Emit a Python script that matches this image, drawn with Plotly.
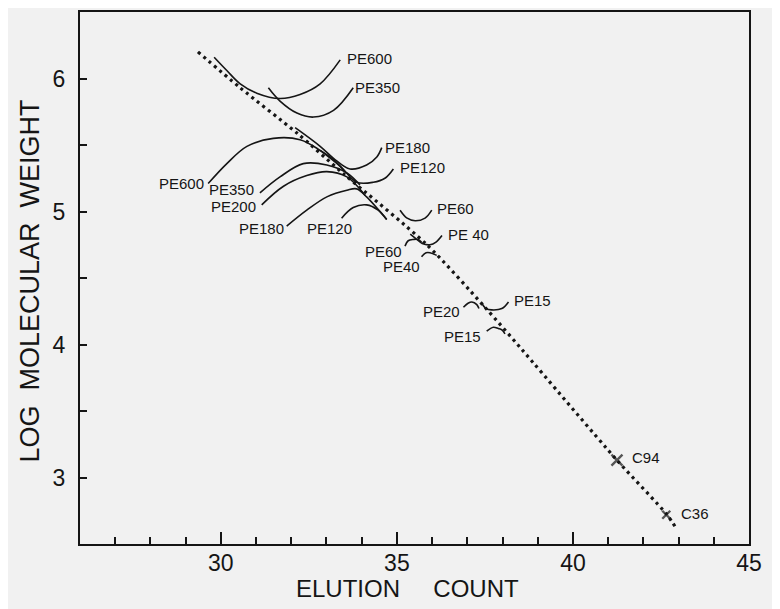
import plotly.graph_objects as go

# ---- calibration (dotted) line ----
cal_x = [29.35, 30.55, 32.16, 33.50, 35.85, 37.50, 38.59, 41.25, 42.67, 42.95]
cal_y = [6.20, 5.93, 5.59, 5.28, 4.75, 4.28, 3.95, 3.13, 2.72, 2.61]

# ---- distribution curves (hand-drawn) ----
curves = {
    "PE600_top": ([29.81, 30.17, 30.55, 31.02, 31.68, 32.25, 32.82, 33.39],
                  [6.16, 6.06, 5.96, 5.89, 5.85, 5.88, 5.96, 6.14]),
    "PE350_top": ([31.35, 31.68, 32.16, 32.63, 33.20, 33.76],
                  [5.93, 5.83, 5.74, 5.71, 5.76, 5.93]),
    "PE600_left": ([29.64, 30.17, 30.74, 31.49, 32.25, 32.82, 33.20, 33.53],
                   [5.21, 5.36, 5.49, 5.55, 5.54, 5.46, 5.39, 5.30]),
    "PE350_left": ([31.11, 31.68, 32.34, 33.01, 33.58, 33.95],
                   [5.14, 5.26, 5.36, 5.35, 5.29, 5.20]),
    "PE200_left": ([31.16, 31.78, 32.44, 33.01, 33.58, 34.10],
                   [5.05, 5.19, 5.27, 5.30, 5.26, 5.12]),
    "PE180_left": ([31.87, 32.44, 33.01, 33.58, 33.86, 34.14, 34.71],
                   [4.89, 5.01, 5.11, 5.16, 5.17, 5.11, 4.94]),
    "PE120_left": ([33.43, 33.76, 34.14, 34.47, 34.71],
                   [4.95, 5.03, 5.05, 5.01, 4.94]),
    "PE180_right": ([32.11, 32.82, 33.20, 33.67, 34.14, 34.43, 34.57],
                    [5.63, 5.49, 5.40, 5.32, 5.35, 5.41, 5.48]),
    "PE120_right": ([32.82, 33.39, 33.86, 34.33, 34.66, 34.90],
                    [5.46, 5.34, 5.22, 5.22, 5.25, 5.32]),
    "PE60_right": ([35.09, 35.29, 35.52, 35.80, 35.99],
                   [5.01, 4.95, 4.93, 4.95, 5.01]),
    "PE40_right": ([35.38, 35.52, 35.72, 35.94, 36.11, 36.28],
                   [4.83, 4.80, 4.76, 4.75, 4.77, 4.82]),
    "PE60_left": ([35.23, 35.32, 35.47, 35.60, 35.70],
                  [4.74, 4.78, 4.79, 4.79, 4.77]),
    "PE40_left": ([35.70, 35.83, 35.94, 36.13],
                  [4.66, 4.69, 4.69, 4.67]),
    "PE20": ([36.89, 37.02, 37.13, 37.27, 37.33],
             [4.28, 4.31, 4.32, 4.30, 4.27]),
    "PE15_right": ([37.41, 37.53, 37.69, 37.98, 38.17],
                   [4.31, 4.27, 4.26, 4.27, 4.32]),
    "PE15_left": ([37.55, 37.74, 37.88, 37.98, 38.07],
                  [4.10, 4.13, 4.12, 4.11, 4.08]),
}

# ---- n-alkane reference points ----
ref_names = ["C94", "C36"]
ref_x = [41.25, 42.65]
ref_y = [3.13, 2.72]

# ---- curve labels: text, x, y, side ----
label_text = ["PE600", "PE350", "PE600", "PE350", "PE200", "PE180", "PE120",
              "PE180", "PE120", "PE60", "PE 40", "PE60", "PE40", "PE20",
              "PE15", "PE15", "C94", "C36"]
label_x = [33.52, 33.76, 29.58, 30.99, 31.06, 31.84, 33.10,
           34.60, 35.03, 36.09, 36.40, 35.20, 35.70, 36.85,
           38.28, 37.45, 41.62, 43.02]
label_y = [6.15, 5.93, 5.21, 5.165, 5.04, 4.87, 4.87,
           5.48, 5.33, 5.02, 4.83, 4.70, 4.59, 4.25,
           4.33, 4.06, 3.15, 2.73]
label_side = ["left", "left", "right", "right", "right", "right", "center",
              "left", "left", "left", "left", "right", "right", "right",
              "left", "right", "left", "left"]

ink = "#151515"
paper = "#f1f1f1"
font_family = "Liberation Sans, Arial, sans-serif"
NB = "\u00a0"

fig = go.Figure()

fig.add_trace(go.Scatter(
    x=cal_x, y=cal_y, mode="lines",
    line=dict(color=ink, width=3.2, dash="3px,4px", shape="spline", smoothing=0.8),
    hoverinfo="skip", showlegend=False))

for name, (cx, cy) in curves.items():
    fig.add_trace(go.Scatter(
        x=cx, y=cy, mode="lines", name=name,
        line=dict(color=ink, width=1.6, shape="spline", smoothing=1.0),
        showlegend=False))

fig.add_trace(go.Scatter(
    x=ref_x, y=ref_y, mode="markers",
    marker=dict(symbol="x-thin", size=[11, 8], line=dict(color=ink, width=2.4)),
    showlegend=False))

for t, lx, ly, side in zip(label_text, label_x, label_y, label_side):
    fig.add_annotation(x=lx, y=ly, text=t, showarrow=False, xanchor=side,
                       yanchor="middle",
                       font=dict(family=font_family, size=15, color=ink))

tickfont = dict(family=font_family, size=23, color=ink)

fig.update_xaxes(
    range=[26, 45], tickmode="array", tickvals=[30, 35, 40, 45],
    ticktext=["30", "35", "40", "45"],
    ticks="inside", ticklen=12, tickwidth=2, tickcolor=ink,
    minor=dict(dtick=1, tick0=26, ticks="inside", ticklen=7, tickwidth=2, tickcolor=ink),
    showline=True, linecolor=ink, linewidth=2, mirror=True,
    showgrid=False, zeroline=False, tickfont=tickfont, automargin=False,
    ticklabelstandoff=-3)

fig.update_yaxes(
    range=[2.5, 6.5], tickmode="array", tickvals=[3, 4, 5, 6],
    ticktext=["3", "4", "5", "6"],
    ticks="inside", ticklen=7, tickwidth=2, tickcolor=ink,
    minor=dict(dtick=0.5, tick0=2.5, ticks="inside", ticklen=7, tickwidth=2, tickcolor=ink),
    showline=True, linecolor=ink, linewidth=2, mirror=True,
    showgrid=False, zeroline=False, tickfont=tickfont, automargin=False,
    ticklabelstandoff=8)

fig.add_annotation(xref="paper", yref="paper", x=0.49, y=-0.083,
                   text="ELUTION" + NB * 5 + "COUNT", showarrow=False,
                   xanchor="center", yanchor="middle",
                   font=dict(family=font_family, size=24, color=ink))
fig.add_annotation(xref="paper", yref="paper", x=-0.075, y=0.495,
                   text="LOG" + NB * 2 + "MOLECULAR" + NB * 2 + "WEIGHT",
                   showarrow=False, textangle=-90,
                   xanchor="center", yanchor="middle",
                   font=dict(family=font_family, size=27, color=ink))

# the page body adds an 8px offset; size the figure to land the plot box
fig.update_layout(
    width=772, height=601,
    margin=dict(l=72, r=31, t=4, b=65),
    paper_bgcolor=paper, plot_bgcolor=paper,
    showlegend=False)

fig.write_html("out.html")
